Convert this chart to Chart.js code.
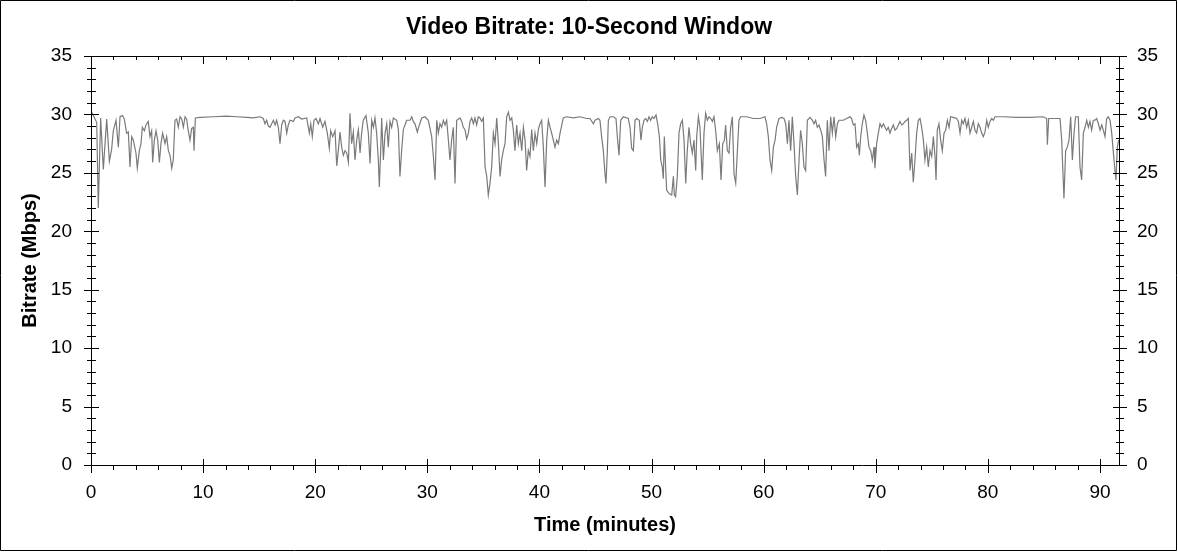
<!DOCTYPE html>
<html lang="en">
<head>
    <meta charset="UTF-8">
    <title>Video Bitrate: 10-Second Window</title>
    <script src="https://cdn.jsdelivr.net/npm/chart.js"></script>
</head>
<style>
    body { margin: 0; background: #fff; }
    #bitrateChart { display: block; }
</style>
<body>
    <canvas id="bitrateChart" width="1178" height="552"></canvas>

    <script>
        // time in minutes
        const minutes = [
            0.00, 0.21, 0.51, 0.65, 0.86, 1.10, 1.40, 1.64, 1.84, 1.99,
            2.23, 2.44, 2.59, 2.82, 2.97, 3.18, 3.33, 3.48, 3.63, 3.78,
            4.01, 4.13, 4.31, 4.46, 4.58, 4.76, 4.91, 5.11, 5.26, 5.41,
            5.50, 5.65, 5.80, 5.95, 6.10, 6.24, 6.39, 6.60, 6.75, 6.90,
            7.05, 7.20, 7.34, 7.49, 7.64, 7.79, 7.94, 8.09, 8.24, 8.39,
            8.53, 8.68, 8.83, 8.98, 9.13, 9.19, 9.31, 9.72, 10.91, 12.10,
            12.99, 13.89, 14.48, 15.08, 15.37, 15.52, 15.67, 15.82, 15.97, 16.12,
            16.27, 16.42, 16.56, 16.71, 16.86, 17.01, 17.16, 17.31, 17.46, 17.60,
            17.75, 18.05, 18.20, 18.50, 18.79, 19.24, 19.48, 19.60, 19.74, 19.89,
            20.07, 20.28, 20.43, 20.67, 20.87, 21.08, 21.26, 21.38, 21.56, 21.77,
            21.92, 22.06, 22.21, 22.36, 22.51, 22.66, 22.81, 22.96, 23.10, 23.25,
            23.40, 23.55, 23.70, 23.85, 24.00, 24.14, 24.29, 24.53, 24.74, 24.89,
            25.04, 25.19, 25.33, 25.48, 25.63, 25.72, 25.84, 25.93, 26.08, 26.23,
            26.38, 26.52, 26.67, 26.82, 26.97, 27.27, 27.42, 27.56, 27.71, 27.86,
            28.16, 28.46, 28.61, 28.75, 28.90, 29.11, 29.29, 29.50, 29.79, 30.09,
            30.39, 30.54, 30.69, 30.84, 30.98, 31.13, 31.28, 31.43, 31.58, 31.73,
            31.88, 32.02, 32.17, 32.32, 32.47, 32.62, 32.92, 33.07, 33.21, 33.36,
            33.51, 33.66, 33.81, 33.96, 34.11, 34.25, 34.40, 34.55, 34.70, 34.85,
            35.00, 35.15, 35.30, 35.44, 35.59, 35.74, 35.89, 36.04, 36.19, 36.34,
            36.49, 36.63, 36.78, 36.93, 37.08, 37.23, 37.38, 37.53, 37.67, 37.82,
            37.97, 38.12, 38.27, 38.42, 38.57, 38.72, 38.86, 39.01, 39.16, 39.31,
            39.46, 39.61, 39.76, 39.90, 40.05, 40.20, 40.35, 40.50, 40.65, 40.80,
            40.95, 41.09, 41.24, 41.39, 41.54, 41.69, 41.84, 42.13, 42.43, 43.03,
            43.62, 44.21, 44.51, 44.81, 44.96, 45.26, 45.40, 45.55, 45.70, 45.85,
            45.94, 46.06, 46.15, 46.30, 46.59, 46.83, 46.95, 47.10, 47.25, 47.49,
            47.93, 48.08, 48.23, 48.38, 48.53, 48.67, 48.91, 49.06, 49.18, 49.33,
            49.48, 49.63, 49.78, 49.92, 50.07, 50.22, 50.40, 50.55, 50.70, 50.82,
            50.96, 51.05, 51.14, 51.23, 51.35, 51.59, 51.80, 51.95, 52.04, 52.15,
            52.30, 52.45, 52.60, 52.75, 52.90, 53.05, 53.19, 53.34, 53.49, 53.64,
            53.79, 53.94, 54.03, 54.18, 54.32, 54.53, 54.68, 54.83, 54.98, 55.13,
            55.28, 55.43, 55.57, 55.72, 55.87, 56.05, 56.20, 56.35, 56.50, 56.61,
            56.76, 56.91, 57.06, 57.21, 57.36, 57.51, 57.66, 57.80, 57.95, 58.49,
            59.08, 59.68, 60.12, 60.27, 60.42, 60.57, 60.72, 60.87, 61.02, 61.16,
            61.37, 61.61, 61.82, 61.97, 62.12, 62.26, 62.41, 62.56, 62.71, 62.86,
            63.01, 63.16, 63.30, 63.45, 63.60, 63.75, 63.90, 64.14, 64.35, 64.49,
            64.64, 64.79, 64.94, 65.09, 65.24, 65.39, 65.53, 65.68, 65.83, 65.98,
            66.13, 66.28, 66.43, 66.58, 66.72, 67.11, 67.41, 67.70, 67.85, 68.00,
            68.15, 68.30, 68.45, 68.54, 68.66, 68.80, 68.95, 69.10, 69.25, 69.40,
            69.55, 69.70, 69.85, 69.93, 70.08, 70.23, 70.38, 70.53, 70.68, 70.83,
            70.97, 71.12, 71.27, 71.42, 71.57, 71.72, 71.87, 72.02, 72.16, 72.31,
            72.46, 72.61, 72.76, 72.91, 73.06, 73.21, 73.35, 73.50, 73.65, 73.80,
            73.95, 74.10, 74.25, 74.39, 74.54, 74.69, 74.84, 74.99, 75.14, 75.29,
            75.38, 75.49, 75.64, 75.79, 75.94, 76.09, 76.24, 76.39, 76.54, 76.68,
            76.92, 77.22, 77.37, 77.52, 77.67, 77.81, 77.96, 78.11, 78.26, 78.41,
            78.56, 78.71, 78.85, 79.00, 79.15, 79.30, 79.45, 79.60, 79.75, 79.90,
            80.04, 80.19, 80.34, 80.49, 80.64, 81.38, 82.57, 83.76, 84.95, 85.25,
            85.31, 85.43, 86.44, 86.59, 86.68, 86.79, 86.94, 87.09, 87.24, 87.39,
            87.54, 87.69, 87.83, 88.07, 88.22, 88.37, 88.52, 88.67, 88.82, 88.97,
            89.11, 89.26, 89.41, 89.56, 89.71, 89.86, 90.01, 90.16, 90.30, 90.45,
            90.60, 90.75, 90.90, 91.05, 91.20, 91.34, 91.43, 91.55, 91.67
        ];

        // bitrate in Mbps, same order as minutes
        const mbps = [
            30.3, 29.9, 29.3, 22.0, 29.7, 25.3, 29.6, 26.0, 27.0, 28.6,
            29.5, 27.2, 29.8, 29.9, 29.6, 28.4, 28.5, 25.5, 28.1, 27.8,
            26.7, 25.4, 26.9, 27.5, 28.9, 28.6, 29.1, 29.4, 28.1, 28.6,
            25.9, 27.8, 28.6, 27.8, 25.9, 27.5, 28.4, 27.5, 28.1, 26.9,
            26.5, 25.4, 26.1, 29.5, 29.6, 28.9, 29.8, 29.6, 28.9, 29.8,
            29.6, 28.6, 27.8, 28.8, 28.9, 26.9, 29.7, 29.75, 29.8, 29.85,
            29.8, 29.75, 29.7, 29.8, 29.65, 29.2, 29.5, 29.0, 28.9, 29.2,
            29.5, 29.1, 29.5, 28.9, 27.5, 29.1, 29.5, 29.4, 28.4, 29.1,
            29.5, 29.4, 29.7, 29.8, 29.6, 29.7, 28.4, 29.2, 28.1, 29.5,
            29.65, 29.2, 29.65, 28.9, 29.4, 28.4, 27.1, 28.6, 28.1, 28.6,
            25.6, 26.9, 28.5, 27.2, 26.5, 26.9, 26.7, 25.9, 30.1, 27.5,
            28.5, 26.1, 27.8, 28.7, 26.7, 28.4, 29.5, 29.9, 28.4, 25.8,
            29.5, 28.9, 29.7, 28.4, 26.1, 23.8, 26.9, 29.7, 26.1, 28.4,
            29.2, 27.2, 29.4, 28.9, 29.7, 29.5, 28.7, 24.7, 26.9, 28.7,
            29.5, 29.5, 29.8, 29.4, 29.2, 28.5, 29.1, 29.7, 29.8, 29.5,
            28.1, 26.4, 24.4, 29.5, 28.4, 29.2, 28.9, 29.5, 29.1, 29.5,
            27.8, 26.1, 27.8, 28.9, 24.1, 29.5, 29.7, 29.4, 28.9, 28.7,
            27.9, 28.4, 29.4, 29.7, 29.2, 29.7, 29.1, 29.8, 29.7, 29.4,
            29.7, 25.5, 24.7, 23.1, 24.1, 25.5, 28.4, 27.5, 29.7, 27.5,
            24.7, 26.1, 26.9, 27.5, 29.8, 30.2, 29.5, 29.7, 28.7, 26.9,
            29.1, 27.5, 28.4, 26.9, 28.9, 27.8, 25.2, 26.9, 26.4, 28.7,
            26.9, 28.4, 27.5, 28.7, 29.2, 29.5, 27.2, 23.8, 27.8, 29.5,
            28.9, 28.4, 27.8, 27.2, 27.8, 27.5, 28.4, 29.7, 29.8, 29.7,
            29.8, 29.65, 29.65, 29.2, 29.5, 29.65, 29.5, 28.1, 26.9, 24.9,
            24.1, 26.9, 29.5, 29.8, 29.8, 29.65, 28.1, 26.5, 29.5, 29.8,
            29.65, 28.9, 27.1, 26.9, 29.5, 29.65, 29.5, 27.8, 28.9, 29.5,
            29.65, 29.4, 29.8, 29.5, 29.8, 29.65, 29.95, 29.2, 28.1, 26.1,
            25.5, 24.5, 28.1, 26.1, 23.5, 23.2, 23.1, 24.7, 23.1, 22.95,
            24.7, 28.4, 29.2, 29.5, 27.8, 24.1, 26.9, 28.9, 27.5, 26.7,
            27.8, 25.2, 28.1, 29.8, 28.9, 24.4, 28.4, 30.1, 29.5, 29.8,
            29.65, 29.4, 29.8, 28.65, 26.9, 27.5, 24.4, 27.5, 27.8, 29.1,
            26.9, 26.7, 28.9, 29.8, 24.9, 24.1, 26.9, 29.5, 29.8, 29.8,
            29.65, 29.65, 29.8, 29.2, 28.1, 26.1, 25.2, 27.2, 27.8, 28.9,
            29.65, 29.75, 29.65, 29.2, 27.5, 29.5, 26.9, 29.8, 27.5, 24.7,
            23.1, 26.1, 28.65, 27.5, 25.5, 25.2, 29.5, 29.75, 29.5, 29.2,
            29.5, 28.9, 29.1, 28.65, 28.1, 26.1, 24.7, 29.5, 26.9, 29.8,
            28.4, 29.8, 28.1, 29.2, 29.5, 29.5, 29.65, 29.8, 29.65, 29.1,
            29.2, 27.2, 27.5, 26.5, 28.1, 29.2, 29.95, 29.5, 28.4, 27.2,
            26.9, 26.1, 27.2, 25.4, 27.5, 28.4, 29.2, 28.9, 29.2, 28.9,
            28.65, 28.9, 28.4, 28.8, 29.1, 28.65, 28.8, 29.1, 29.4, 29.1,
            29.2, 29.4, 29.5, 29.65, 25.2, 26.7, 24.2, 26.1, 28.4, 29.5,
            29.65, 28.9, 27.8, 26.1, 27.2, 25.5, 26.9, 26.4, 28.1, 26.4,
            24.4, 28.65, 29.2, 27.8, 26.9, 28.4, 28.65, 29.5, 28.9, 29.8,
            29.75, 29.65, 29.4, 28.4, 29.5, 29.2, 29.65, 28.9, 29.5, 28.4,
            28.9, 29.4, 28.65, 28.4, 29.2, 28.9, 28.4, 28.1, 28.5, 29.5,
            28.9, 29.4, 29.65, 29.5, 29.8, 29.8, 29.75, 29.75, 29.8, 29.65,
            27.4, 29.65, 29.65, 27.8, 25.5, 22.8, 26.9, 27.2, 27.8, 29.8,
            26.1, 28.4, 29.8, 29.8, 25.5, 24.4, 28.4, 28.9, 29.5, 28.9,
            29.4, 28.65, 29.5, 29.5, 29.65, 29.2, 28.65, 29.1, 28.65, 28.1,
            29.65, 29.8, 29.5, 28.4, 26.7, 25.2, 24.4, 27.2, 27.8
        ];

        const xTicks = [0, 10, 20, 30, 40, 50, 60, 70, 80, 90];
        const yTicks = [0, 5, 10, 15, 20, 25, 30, 35];
        const xMax = 91.7;

        // plot frame with crossing major ticks and small minor ticks
        const frame = {
            id: 'frame',
            afterDraw(chart) {
                const ctx = chart.ctx;
                const a = chart.chartArea;
                const x = chart.scales.x;
                const y = chart.scales.y;
                ctx.save();
                ctx.strokeStyle = '#000';
                ctx.lineWidth = 1;
                ctx.beginPath();
                ctx.rect(0.5, 0.5, chart.width - 2, chart.height - 2);
                ctx.rect(a.left + 0.5, a.top + 0.5, a.right - a.left, a.bottom - a.top);
                for (let m = 0; m <= x.max; m += 2) {
                    const px = Math.round(x.getPixelForValue(m)) + 0.5;
                    const major = m % 10 === 0;
                    ctx.moveTo(px, a.bottom + (major ? -6 : 0));
                    ctx.lineTo(px, a.bottom + (major ? 8 : 5));
                    ctx.moveTo(px, a.top);
                    ctx.lineTo(px, a.top + (major ? 8 : 4));
                }
                for (let v = 0; v <= y.max; v += 1) {
                    const py = Math.round(y.getPixelForValue(v)) + 0.5;
                    const major = v % 5 === 0;
                    const l = major ? 7 : 4;
                    ctx.moveTo(a.left - l, py);
                    ctx.lineTo(a.left + l + 1, py);
                    ctx.moveTo(a.right - l + 1, py);
                    ctx.lineTo(a.right + l + 1, py);
                }
                ctx.stroke();
                ctx.restore();
            }
        };

        Chart.defaults.font.family = '"Liberation Sans", Arial, sans-serif';
        Chart.defaults.color = '#000';

        const points = minutes.map((m, i) => ({ x: m, y: mbps[i] }));

        const ctx = document.getElementById('bitrateChart').getContext('2d');
        const chart = new Chart(ctx, {
            type: 'line',
            data: {
                datasets: [{
                    label: 'Video Bitrate',
                    data: points,
                    borderColor: 'rgb(122, 122, 122)',
                    borderWidth: 1.2,
                    pointRadius: 0,
                    tension: 0,
                    fill: false
                }]
            },
            options: {
                responsive: false,
                animation: false,
                devicePixelRatio: 1,
                layout: { padding: 0 },
                plugins: {
                    legend: { display: false },
                    tooltip: { enabled: false },
                    title: {
                        display: true,
                        text: 'Video Bitrate: 10-Second Window',
                        color: '#000',
                        font: { size: 23, weight: 'bold' },
                        padding: { top: 14.2, bottom: 14.2 }
                    }
                },
                scales: {
                    x: {
                        type: 'linear',
                        min: 0,
                        max: xMax,
                        grid: { display: false, drawTicks: false },
                        border: { display: false },
                        ticks: { font: { size: 19 }, padding: 16, maxRotation: 0, includeBounds: false },
                        afterBuildTicks: s => { s.ticks = xTicks.map(v => ({ value: v })); },
                        afterFit: s => { s.height = 87; },
                        title: {
                            display: true,
                            text: 'Time (minutes)',
                            font: { size: 20, weight: 'bold' },
                            padding: { top: 0, bottom: 15 }
                        }
                    },
                    y: {
                        position: 'left',
                        min: 0,
                        max: 35,
                        grid: { display: false, drawTicks: false },
                        border: { display: false },
                        ticks: { font: { size: 19 }, padding: 19 },
                        afterBuildTicks: s => { s.ticks = yTicks.map(v => ({ value: v })); },
                        afterFit: s => { s.width = 91; },
                        title: {
                            display: true,
                            text: 'Bitrate (Mbps)',
                            font: { size: 20, weight: 'bold' },
                            padding: { top: 18, bottom: 0 }
                        }
                    },
                    y2: {
                        position: 'right',
                        min: 0,
                        max: 35,
                        grid: { display: false, drawTicks: false },
                        border: { display: false },
                        ticks: { font: { size: 19 }, padding: 18 },
                        afterBuildTicks: s => { s.ticks = yTicks.map(v => ({ value: v })); },
                        afterFit: s => { s.width = 59; }
                    }
                }
            },
            plugins: [frame]
        });
    </script>
</body>
</html>
